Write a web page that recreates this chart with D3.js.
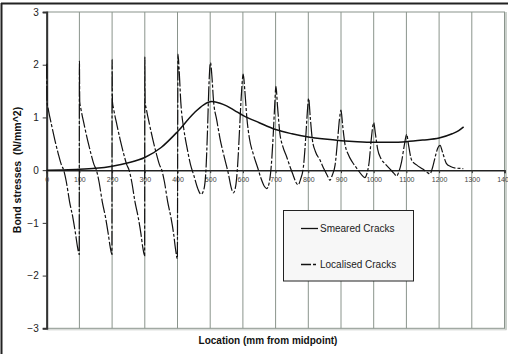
<!DOCTYPE html>
<html><head><meta charset="utf-8">
<script src="https://cdn.jsdelivr.net/npm/d3@7"></script>
<style>body{margin:0;background:#fff}svg{display:block}</style>
</head><body>
<svg id="c" width="508" height="354"></svg>
<script>
const xTicks = [0,100,200,300,400,500,600,700,800,900,1000,1100,1200,1300,1400];
const yTicks = [-3,-2,-1,0,1,2,3];
const smearedX = [0,50,100,150,200,250,300,350,400,450,480,505,530,550,575,600,650,700,750,800,850,900,950,1000,1050,1100,1150,1200,1240,1260,1275];
const smearedY = [0,0.005,0.015,0.035,0.075,0.14,0.24,0.43,0.73,1.08,1.24,1.3,1.27,1.22,1.13,1.04,0.9,0.77,0.69,0.63,0.59,0.56,0.54,0.53,0.53,0.54,0.57,0.61,0.69,0.75,0.82];
const localX = [
 0,1,5,15,25,35,45,52,60,70,80,88,94,99.5,
 100,101,105,115,125,135,145,152,160,170,180,188,194,199.5,
 200,201,205,215,225,235,245,252,260,270,280,288,294,299.5,
 300,301,305,315,325,335,345,352,360,370,380,388,394,399.5,
 401.5,405,410,420,430,440,450,462,472,480,487,492,496,
 501,505,510,520,530,545,555,565,571,578,584,590,595,
 601,606,612,620,632,645,655,665,673,680,687,693,697,
 701,706,713,722,734,745,754,762,769,776,785,793,797,
 801,806,812,822,835,848,858,866,873,882,890,895,
 900,905,912,922,935,950,962,973,980,986,992,
 1000,1005,1012,1022,1035,1050,1062,1070,1077,1085,1093,
 1101,1106,1116,1131,1150,1165,1172,1180,1190,1196,
 1203,1210,1222,1235,1250,1274];
const localY = [
 2.02,1.3,1.15,0.85,0.57,0.32,0.1,0,-0.22,-0.6,-0.9,-1.2,-1.45,-1.6,
 2.07,1.3,1.15,0.85,0.57,0.32,0.1,0,-0.22,-0.6,-0.9,-1.2,-1.45,-1.6,
 2.1,1.3,1.15,0.85,0.57,0.32,0.1,0,-0.22,-0.6,-0.9,-1.2,-1.47,-1.62,
 2.15,1.3,1.15,0.85,0.57,0.32,0.1,0,-0.22,-0.6,-0.9,-1.2,-1.5,-1.68,
 2.2,1.9,1.3,0.75,0.4,0.1,-0.1,-0.35,-0.46,-0.38,0,0.8,1.6,
 2.04,1.8,1.33,0.95,0.6,0.2,-0.05,-0.35,-0.43,-0.3,0.1,0.8,1.4,
 1.82,1.5,1.0,0.6,0.3,0.05,-0.15,-0.3,-0.35,-0.25,0.1,0.7,1.2,
 1.59,1.2,0.7,0.45,0.25,0.05,-0.1,-0.23,-0.28,-0.18,0.06,0.7,1.1,
 1.36,1.0,0.6,0.35,0.2,0.02,-0.1,-0.19,-0.1,0.1,0.6,0.95,
 1.14,0.85,0.5,0.3,0.15,0.02,-0.08,-0.14,-0.05,0.15,0.55,
 0.9,0.7,0.4,0.22,0.12,0.02,-0.06,-0.11,-0.03,0.15,0.45,
 0.68,0.5,0.19,0.1,0.02,-0.05,-0.07,0.05,0.3,0.42,
 0.47,0.35,0.13,0.07,0.04,0.03];

const svg = d3.select('#c');
const font = 'Liberation Sans, Arial, sans-serif';
const x = d3.scaleLinear().domain([0,1400]).range([46.7,504.5]);
const y = d3.scaleLinear().domain([-3,3]).range([328.3,12]);

// outer frame
svg.append('line').attr('x1',1).attr('x2',508).attr('y1',3.5).attr('y2',3.5).attr('stroke','#222').attr('stroke-width',2);
svg.append('line').attr('x1',1.5).attr('x2',1.5).attr('y1',3).attr('y2',354).attr('stroke','#222').attr('stroke-width',2);

// plot area border
svg.append('rect').attr('x',x(0)).attr('y',y(3)).attr('width',x(1400)-x(0)).attr('height',y(-3)-y(3))
  .attr('fill','none').attr('stroke','#8a948c').attr('stroke-width',1);
svg.append('line').attr('x1',x(1400)+1.5).attr('x2',x(1400)+1.5).attr('y1',y(3)).attr('y2',y(-3)+1.5).attr('stroke','#b8c0ba').attr('stroke-width',1.5);
svg.append('line').attr('x1',x(0)).attr('x2',x(1400)+2).attr('y1',y(-3)+1.5).attr('y2',y(-3)+1.5).attr('stroke','#c8ccc8').attr('stroke-width',1);

// vertical grid
svg.append('g').selectAll('line').data(xTicks.slice(1)).join('line')
  .attr('x1',d=>x(d)).attr('x2',d=>x(d)).attr('y1',y(3)).attr('y2',y(-3))
  .attr('stroke','#8a948c').attr('stroke-width',1);

// y axis
const ya = svg.append('g').attr('transform',`translate(${x(0)},0)`)
  .call(d3.axisLeft(y).tickValues(yTicks).tickSize(4).tickPadding(4).tickFormat(d3.format('d')));
ya.select('.domain').attr('stroke','#333').attr('stroke-width',2);
ya.selectAll('.tick line').attr('stroke','#333');
ya.selectAll('text').attr('font-family',font).attr('font-size',10).attr('fill','#222');

// x axis at zero
const xa = svg.append('g').attr('transform',`translate(0,${y(0)})`)
  .call(d3.axisBottom(x).tickValues(xTicks).tickSize(3).tickPadding(4).tickFormat(d3.format('d')));
xa.select('.domain').attr('stroke','#222').attr('stroke-width',1.5);
xa.selectAll('.tick line').attr('stroke','#333');
xa.selectAll('text').attr('font-family',font).attr('font-size',7).attr('fill','#444');

// lines
const line = d3.line().x(d=>x(d[0])).y(d=>y(d[1])).curve(d3.curveMonotoneX);
const sm = smearedX.map((v,i)=>[v,smearedY[i]]);
const lo = localX.map((v,i)=>[v,localY[i]]);
svg.append('path').datum(lo).attr('d',line).attr('fill','none').attr('stroke','#111')
  .attr('stroke-width',1.2).attr('stroke-dasharray','15,2,3,2');
svg.append('path').datum(sm).attr('d',line).attr('fill','none').attr('stroke','#111').attr('stroke-width',1.5);

// titles
svg.append('text').attr('transform',`translate(21,170) rotate(-90)`).attr('text-anchor','middle')
  .attr('font-family',font).attr('font-weight','bold').attr('font-size',10.5).attr('fill','#111')
  .attr('xml:space','preserve').style('white-space','pre').text('Bond stresses  (N/mm^2)');
svg.append('text').attr('x',268).attr('y',344).attr('text-anchor','middle')
  .attr('font-family',font).attr('font-weight','bold').attr('font-size',10).attr('fill','#111')
  .text('Location (mm from midpoint)');

// legend
const lg = svg.append('g');
lg.append('rect').attr('x',283.5).attr('y',210.5).attr('width',130).attr('height',70.5)
  .attr('fill','#f7f7f7').attr('stroke','#222').attr('stroke-width',1);
const leg = [{label:'Smeared Cracks',dash:null,yy:228.5},{label:'Localised Cracks',dash:'10,2,3,2',yy:264.5}];
leg.forEach(l=>{
  lg.append('line').attr('x1',301).attr('x2',318).attr('y1',l.yy).attr('y2',l.yy).attr('stroke','#111')
    .attr('stroke-width',1.3).attr('stroke-dasharray',l.dash);
  lg.append('text').attr('x',320).attr('y',l.yy+3.5).attr('font-family',font).attr('font-size',10)
    .attr('fill','#222').text(l.label);
});
</script>
</body></html>
